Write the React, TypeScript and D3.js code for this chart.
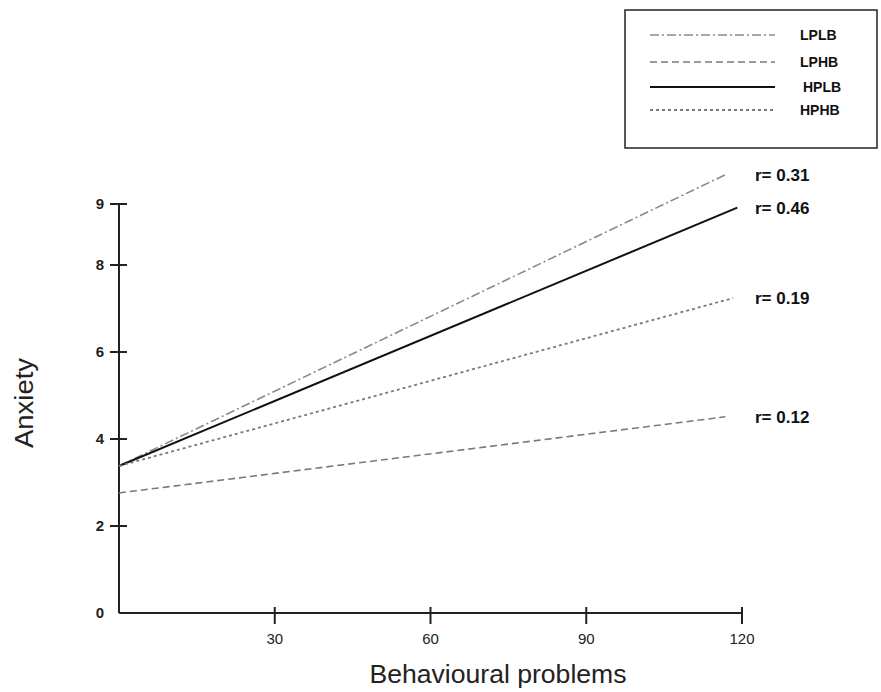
import React from "react";
import * as d3 from "d3";

const seriesNames = ["LPLB", "LPHB", "HPLB", "HPHB"];
const startX = [0, 0, 0, 0];
const startY = [3.38, 2.76, 3.38, 3.38];
const endX = [116.8, 116.8, 119.1, 118.3];
const endY = [9.48, 4.51, 8.94, 7.24];
const rLabels = ["r= 0.31", "r= 0.12", "r= 0.46", "r= 0.19"];
const xTicks = [30, 60, 90, 120];
const yTicks = [0, 2, 4, 6, 8, 9];

const dashes = ["9,3,2,3", "7,4", "none", "3,3"];
const colors = ["#8a8a8a", "#7a7a7a", "#111", "#7a7a7a"];
const widths = [1.6, 1.6, 2, 1.8];

export default function App() {
  const W = 881, H = 692;
  const x = d3.scaleLinear().domain([0, 120]).range([119, 742]);
  const y = d3.scaleLinear().domain([0, 8, 9]).range([613, 265, 204]);
  const line = d3.line<[number, number]>().x(d => x(d[0])).y(d => y(d[1]));
  const font = "Liberation Sans, Arial, sans-serif";
  const legendY = [35, 62, 87, 110];

  return (
    <svg width={W} height={H} style={{ position: "absolute", left: 0, top: 0, background: "#fff" }} fontFamily={font}>
      <rect width={W} height={H} fill="#fff" />
      {/* axes */}
      <line x1={x(0)} x2={x(0)} y1={y(9)} y2={y(0)} stroke="#222" strokeWidth={2} />
      <line x1={x(0)} x2={x(120)} y1={y(0)} y2={y(0)} stroke="#222" strokeWidth={2} />
      {yTicks.map(t => (
        <g key={"y" + t}>
          {t > 0 && <line x1={x(0) - 9} x2={x(0) + 8} y1={y(t)} y2={y(t)} stroke="#222" strokeWidth={2} />}
          <text x={104} y={y(t)} dy="0.36em" textAnchor="end" fontSize={15} fontWeight="bold" fill="#222">{t}</text>
        </g>
      ))}
      {xTicks.map(t => (
        <g key={"x" + t}>
          <line x1={x(t)} x2={x(t)} y1={y(0) - 6} y2={y(0) + 11} stroke="#222" strokeWidth={2} />
          <text x={x(t)} y={y(0) + 31} textAnchor="middle" fontSize={15} fill="#222">{t}</text>
        </g>
      ))}
      <text x={498} y={683} textAnchor="middle" fontSize={26} textLength={257} lengthAdjust="spacingAndGlyphs" fill="#222">Behavioural problems</text>
      <text transform={`translate(33,403) rotate(-90)`} textAnchor="middle" fontSize={26} textLength={90} lengthAdjust="spacingAndGlyphs" fill="#222">Anxiety</text>
      {/* series */}
      {seriesNames.map((n, i) => (
        <g key={n}>
          <path d={line([[startX[i], startY[i]], [endX[i], endY[i]]]) || ""} fill="none" stroke={colors[i]}
            strokeWidth={widths[i]} strokeDasharray={dashes[i]} />
          <text x={755} y={y(endY[i])} dy="0.36em" fontSize={17} fontWeight="bold" fill="#111">{rLabels[i]}</text>
        </g>
      ))}
      {/* legend */}
      <rect x={625} y={10} width={252} height={138} fill="#fff" stroke="#222" strokeWidth={1.5} />
      {seriesNames.map((n, i) => (
        <g key={"l" + n}>
          <line x1={650} x2={775} y1={legendY[i]} y2={legendY[i]} stroke={colors[i]} strokeWidth={widths[i]} strokeDasharray={dashes[i]} />
          <text x={i === 2 ? 803 : 800} y={legendY[i]} dy="0.36em" fontSize={14} fontWeight="bold" fill="#111">{n}</text>
        </g>
      ))}
    </svg>
  );
}
